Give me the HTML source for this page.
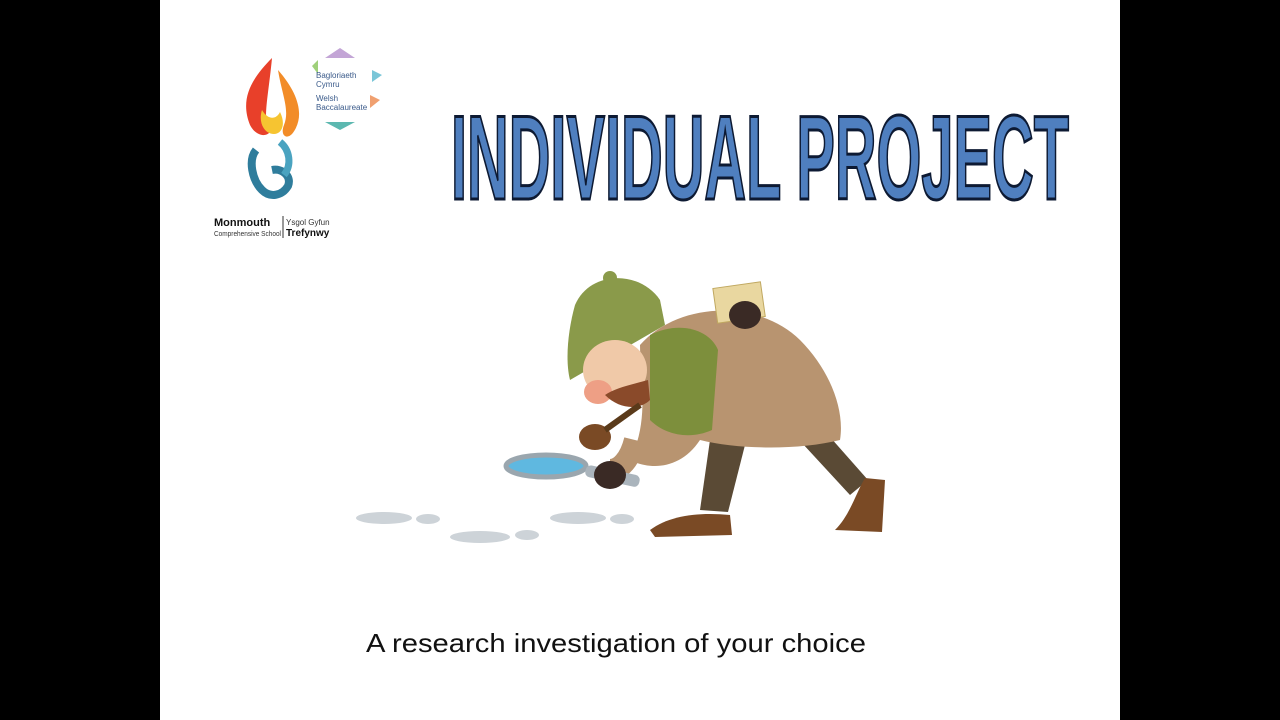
<!DOCTYPE html>
<html><head><meta charset="utf-8"><style>
html,body{margin:0;padding:0;width:1280px;height:720px;overflow:hidden;background:#000}
svg{display:block}
</style></head><body>
<svg width="1280" height="720" viewBox="0 0 1280 720">
<rect x="0" y="0" width="1280" height="720" fill="#000"/>
<rect x="160" y="0" width="960" height="720" fill="#fff"/>

<g>
  <path d="M272 58 C250 80 240 100 250 125 C255 135 265 138 270 132 C262 120 268 100 272 58Z" fill="#e8402a"/>
  <path d="M278 70 C300 95 305 118 292 134 C286 140 280 135 284 125 C290 110 282 95 278 70Z" fill="#f28c28"/>
  <path d="M262 110 C258 122 264 134 274 134 C282 134 286 124 280 112 C276 120 268 120 262 110Z" fill="#f6c431"/>
  <path d="M256 150 C248 160 252 180 262 190 C270 198 282 196 288 186 C292 176 282 168 272 170" fill="none" stroke="#2f7d9c" stroke-width="8"/>
  <path d="M280 142 C290 150 292 165 284 175" fill="none" stroke="#4aa3c0" stroke-width="7"/>
  <text x="214" y="226" font-family="Liberation Sans, sans-serif" font-weight="bold" font-size="11" fill="#111">Monmouth</text>
  <text x="214" y="236" textLength="67" lengthAdjust="spacingAndGlyphs" font-family="Liberation Sans, sans-serif" font-size="7" fill="#333">Comprehensive School</text>
  <line x1="283" y1="216" x2="283" y2="238" stroke="#333" stroke-width="1"/>
  <text x="286" y="225" font-family="Liberation Sans, sans-serif" font-size="8" fill="#333">Ysgol Gyfun</text>
  <text x="286" y="236" font-family="Liberation Sans, sans-serif" font-weight="bold" font-size="10" fill="#111">Trefynwy</text>
</g>

<g>
  <polygon points="325,58 340,48 355,58" fill="#c3a5d6"/>
  <polygon points="312,66 318,60 318,74" fill="#9fd07a"/>
  <polygon points="372,70 382,75 372,82" fill="#7ac6d8"/>
  <polygon points="370,95 380,100 370,108" fill="#f0a070"/>
  <polygon points="325,122 340,130 355,122" fill="#5cb8b0"/>
  <text x="316" y="78" font-family="Liberation Sans, sans-serif" font-size="8" fill="#3a5a8a">Bagloriaeth</text>
  <text x="316" y="87" font-family="Liberation Sans, sans-serif" font-size="8" fill="#3a5a8a">Cymru</text>
  <text x="316" y="101" font-family="Liberation Sans, sans-serif" font-size="8" fill="#3a5a8a">Welsh</text>
  <text x="316" y="110" font-family="Liberation Sans, sans-serif" font-size="8" fill="#3a5a8a">Baccalaureate</text>
</g>

<text x="451" y="199" textLength="618" lengthAdjust="spacingAndGlyphs" font-family="Liberation Sans, sans-serif" font-weight="bold" font-size="120" fill="#4f7fbf" stroke="#0d1a33" stroke-width="3">INDIVIDUAL  PROJECT</text>

<g fill="#cdd3d8">
  <ellipse cx="384" cy="518" rx="28" ry="6"/><ellipse cx="428" cy="519" rx="12" ry="5"/>
  <ellipse cx="480" cy="537" rx="30" ry="6"/><ellipse cx="527" cy="535" rx="12" ry="5"/>
  <ellipse cx="578" cy="518" rx="28" ry="6"/><ellipse cx="622" cy="519" rx="12" ry="5"/>
</g>

<g>
  <path d="M710 440 L700 510 L728 512 L745 445Z" fill="#5a4a35"/>
  <path d="M790 430 L850 495 L868 480 L815 420Z" fill="#5a4a35"/>
  <path d="M650 530 C670 515 700 512 730 515 L732 535 L655 537Z" fill="#7a4a25"/>
  <path d="M835 530 C850 515 855 495 865 478 L885 480 L882 532Z" fill="#7a4a25"/>
  <path d="M640 345 C680 300 760 300 800 340 C830 370 845 410 840 440 C800 450 740 450 700 440 C680 470 650 470 630 460 C650 420 640 380 640 345Z" fill="#b89470"/>
  <path d="M650 335 C680 320 710 330 718 350 L712 430 C690 440 665 435 650 420Z" fill="#7d8f3c"/>
  <path d="M575 305 C590 270 640 270 660 300 L665 325 L570 380 C565 360 568 330 575 305Z" fill="#8a9a4a"/>
  <circle cx="610" cy="278" r="7" fill="#8a9a4a"/>
  <ellipse cx="615" cy="370" rx="32" ry="30" fill="#f0c9a8"/>
  <ellipse cx="598" cy="392" rx="14" ry="12" fill="#ee9f85"/>
  <path d="M605 395 C620 410 640 410 650 400 L648 380 C630 385 615 388 605 395Z" fill="#8a4a2a"/>
  <ellipse cx="595" cy="437" rx="16" ry="13" fill="#7a4a25"/>
  <path d="M605 430 L640 405" stroke="#5a3a1a" stroke-width="6"/>
  <path d="M635 440 C630 460 620 470 610 470" stroke="#b89470" stroke-width="22" fill="none"/>
  <ellipse cx="546" cy="466" rx="40" ry="11" fill="#5fb8e0" stroke="#9aa6ae" stroke-width="5"/>
  <rect x="585" y="470" width="55" height="12" rx="5" fill="#aab4bc" transform="rotate(12 612 476)"/>
  <ellipse cx="610" cy="475" rx="16" ry="14" fill="#3a2a25"/>
  <rect x="715" y="285" width="48" height="35" fill="#e9d7a0" stroke="#c0a860" transform="rotate(-8 739 302)"/>
  <ellipse cx="745" cy="315" rx="16" ry="14" fill="#3a2a25"/>
</g>

<text x="366" y="652" textLength="500" lengthAdjust="spacingAndGlyphs" font-family="Liberation Sans, sans-serif" font-size="26" fill="#111">A research investigation of your choice</text>
</svg>
</body></html>
